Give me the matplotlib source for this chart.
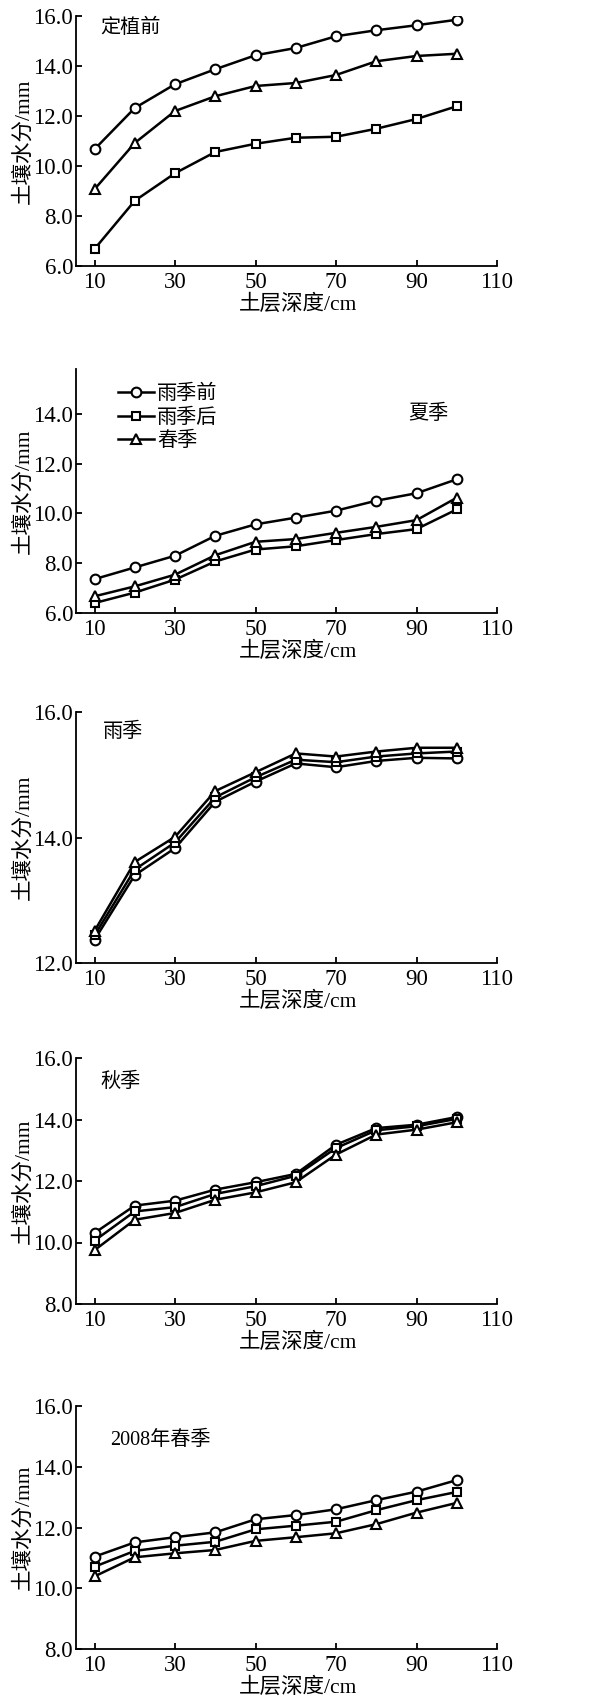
import matplotlib
matplotlib.use("Agg")
import matplotlib.pyplot as plt

plt.rcParams['font.family'] = ['Liberation Serif', 'Noto Sans CJK SC']
plt.rcParams['axes.unicode_minus'] = False

depth = [10, 20, 30, 40, 50, 60, 70, 80, 90, 100]
series_names = ['雨季前', '雨季后', '春季']

# 定植前
p1_circle = [10.67, 12.32, 13.27, 13.87, 14.43, 14.72, 15.19, 15.43, 15.63, 15.85]
p1_square = [6.68, 8.61, 9.71, 10.56, 10.89, 11.13, 11.17, 11.49, 11.88, 12.39]
p1_tri = [9.07, 10.92, 12.20, 12.79, 13.20, 13.32, 13.64, 14.19, 14.40, 14.49]

# 夏季
p2_circle = [7.36, 7.83, 8.30, 9.10, 9.56, 9.83, 10.11, 10.51, 10.81, 11.37]
p2_square = [6.40, 6.82, 7.34, 8.07, 8.55, 8.68, 8.93, 9.17, 9.37, 10.16]
p2_tri = [6.67, 7.07, 7.54, 8.32, 8.86, 8.97, 9.22, 9.46, 9.73, 10.63]

# 雨季
p3_circle = [12.37, 13.40, 13.83, 14.57, 14.89, 15.18, 15.12, 15.22, 15.27, 15.26]
p3_square = [12.44, 13.49, 13.92, 14.64, 14.96, 15.24, 15.20, 15.29, 15.34, 15.37]
p3_tri = [12.51, 13.61, 14.01, 14.74, 15.04, 15.34, 15.29, 15.37, 15.43, 15.43]

# 秋季
p4_circle = [10.31, 11.20, 11.36, 11.72, 11.96, 12.23, 13.18, 13.72, 13.83, 14.08]
p4_square = [10.06, 11.01, 11.15, 11.58, 11.83, 12.17, 13.07, 13.65, 13.78, 14.02]
p4_tri = [9.75, 10.74, 10.96, 11.39, 11.63, 11.96, 12.86, 13.51, 13.67, 13.91]

# 2008年春季
p5_circle = [11.04, 11.51, 11.68, 11.84, 12.27, 12.41, 12.60, 12.90, 13.18, 13.56]
p5_square = [10.71, 11.23, 11.40, 11.53, 11.94, 12.06, 12.19, 12.57, 12.90, 13.17]
p5_tri = [10.39, 11.02, 11.15, 11.26, 11.56, 11.68, 11.81, 12.11, 12.49, 12.81]

titles = ['定植前', '夏季', '雨季', '秋季', '2008年春季']
title_pos = [(0.057, 0.952), (0.789, 0.816), (0.064, 0.92), (0.057, 0.902), (0.081, 0.86)]
ylims = [(6, 16), (6, 15.8), (12, 16), (8, 16), (8, 16)]
yticks = [[6, 8, 10, 12, 14, 16], [6, 8, 10, 12, 14], [12, 14, 16],
          [8, 10, 12, 14, 16], [8, 10, 12, 14, 16]]
data = [(p1_circle, p1_square, p1_tri), (p2_circle, p2_square, p2_tri),
        (p3_circle, p3_square, p3_tri), (p4_circle, p4_square, p4_tri),
        (p5_circle, p5_square, p5_tri)]

# axes boxes in pixels: top, bottom
H, W = 1702, 590
boxes = [(16, 266), (369, 613), (712, 963), (1058, 1304), (1406, 1649)]
left, right = 76, 497

fig = plt.figure(figsize=(W / 100, H / 100), dpi=100)
markers = ['o', 's', '^']

for i in range(5):
    top, bot = boxes[i]
    ax = fig.add_axes([left / W, 1 - bot / H, (right - left) / W, (bot - top) / H])
    for vals, m, name in zip(data[i], markers, series_names):
        ax.plot(depth, vals, color='black', lw=1.8, marker=m, ms=7 if m != 's' else 6,
                mfc='white', mec='black', mew=1.5, label=name)
    ax.set_xlim(5.4, 110)
    ax.set_ylim(*ylims[i])
    ax.set_xticks([10, 30, 50, 70, 90, 110])
    ax.set_yticks(yticks[i])
    ax.set_yticklabels([f'{v:.1f}' for v in yticks[i]])
    ax.spines['top'].set_visible(False)
    ax.spines['right'].set_visible(False)
    ax.spines['left'].set_linewidth(1.3)
    ax.spines['bottom'].set_linewidth(1.3)
    ax.tick_params(direction='in', length=4, width=1.3, labelsize=16.5, pad=2)
    ax.tick_params(axis='x', pad=4)
    ax.set_ylabel('土壤水分/mm', fontsize=15.5)
    ax.yaxis.set_label_coords(-0.1, 0.5)
    ax.set_xlabel('土层深度/cm', fontsize=15.5)
    ax.xaxis.set_label_coords(0.527, -0.115)
    ax.text(title_pos[i][0], title_pos[i][1], titles[i], transform=ax.transAxes,
            fontsize=14.5, va='center', ha='left')
    if i == 1:
        ax.legend(loc='upper left', bbox_to_anchor=(0.1, 0.935), frameon=False,
                  fontsize=14.5, handlelength=1.8, handletextpad=0.15,
                  labelspacing=0.22, borderpad=0, borderaxespad=0)

fig.savefig('out.png', dpi=100)
